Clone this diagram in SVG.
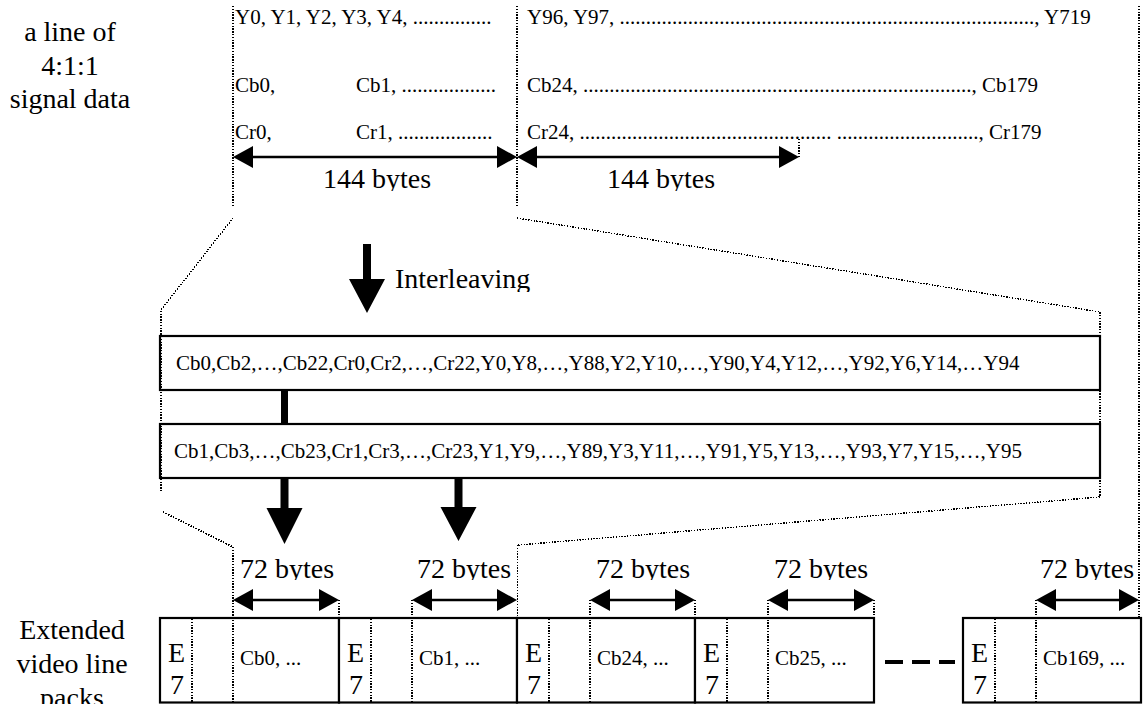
<svg xmlns="http://www.w3.org/2000/svg" width="1143" height="704" viewBox="0 0 1143 704">
  <defs>
    <style>
      .big { font-family: "Liberation Serif", "Times New Roman", serif; font-size: 28px; fill: #000; }
      .sm { font-family: "Liberation Serif", "Times New Roman", serif; font-size: 21px; fill: #000; }
      .dot { stroke: #000; stroke-width: 1.4; stroke-dasharray: 1.4 1.4; fill: none; shape-rendering: crispEdges; }
      .box { fill: #fff; stroke: #000; stroke-width: 2.2; }
      .dim { stroke: #000; stroke-width: 2.5; fill: none; marker-start: url(#ah); marker-end: url(#ah); }
      .solid { fill: #000; stroke: none; }
      .dash { stroke: #000; stroke-width: 4; stroke-dasharray: 18 9; fill: none; }
    </style>
    <!-- filled triangular head used at both ends of the byte-size dimension lines -->
    <marker id="ah" markerUnits="userSpaceOnUse" viewBox="0 0 20 22" markerWidth="20" markerHeight="22" refX="15" refY="11" orient="auto-start-reverse">
      <path d="M0,0 L20,11 L0,22 z" fill="#000"/>
    </marker>
    <!-- label frames crop the descenders of the larger captions -->
    <clipPath id="clip144"><rect x="0" y="0" width="1143" height="191"/></clipPath>
    <clipPath id="clipInter"><rect x="0" y="0" width="1143" height="292"/></clipPath>
    <clipPath id="clip72"><rect x="0" y="0" width="1143" height="580"/></clipPath>
  </defs>

  <rect width="1143" height="704" fill="#fff"/>

  <!-- left-hand captions -->
  <g id="caption-source">
    <text class="big" x="70" y="41" text-anchor="middle">a line of</text>
    <text class="big" x="70" y="75" text-anchor="middle">4:1:1</text>
    <text class="big" x="70" y="108" text-anchor="middle">signal data</text>
  </g>
  <g id="caption-packs">
    <text class="big" x="72" y="639" text-anchor="middle">Extended</text>
    <text class="big" x="72" y="673" text-anchor="middle">video line</text>
    <text class="big" x="72" y="707" text-anchor="middle">packs</text>
  </g>

  <!-- one line of 4:1:1 samples -->
  <g id="signal-line">
    <text class="sm" x="235" y="24">Y0, Y1, Y2, Y3, Y4, ...............</text>
    <text class="sm" x="527" y="24">Y96, Y97, ..............................................................................., Y719</text>
    <text class="sm" x="235" y="92">Cb0,</text>
    <text class="sm" x="356" y="92">Cb1, ..................</text>
    <text class="sm" x="527" y="92">Cb24, .........................................................................., Cb179</text>
    <text class="sm" x="235" y="139">Cr0,</text>
    <text class="sm" x="356" y="139">Cr1, ..................</text>
    <text class="sm" x="527" y="139">Cr24, ................................................ ..........................., Cr179</text>
  </g>

  <g id="label-144-a" clip-path="url(#clip144)">
    <text class="big" x="377" y="188" text-anchor="middle">144 bytes</text>
  </g>
  <g id="label-144-b" clip-path="url(#clip144)">
    <text class="big" x="661" y="188" text-anchor="middle">144 bytes</text>
  </g>
  <g id="label-interleaving" clip-path="url(#clipInter)">
    <text class="big" x="395" y="288">Interleaving</text>
  </g>

  <!-- interleaved halves -->
  <g id="half-even">
    <rect class="box" x="160" y="336" width="940" height="54"/>
    <text class="sm" x="176" y="370">Cb0,Cb2,…,Cb22,Cr0,Cr2,…,Cr22,Y0,Y8,…,Y88,Y2,Y10,…,Y90,Y4,Y12,…,Y92,Y6,Y14,…Y94</text>
  </g>
  <g id="half-odd">
    <rect class="box" x="160" y="424" width="940" height="54"/>
    <text class="sm" x="174" y="458">Cb1,Cb3,…,Cb23,Cr1,Cr3,…,Cr23,Y1,Y9,…,Y89,Y3,Y11,…,Y91,Y5,Y13,…,Y93,Y7,Y15,…,Y95</text>
  </g>

  <!-- extended video line packs -->
  <g id="pack-1">
    <rect class="box" x="160" y="618" width="179" height="84.5"/>
    <line class="dot" x1="192" y1="619" x2="192" y2="702"/>
    <text class="big" x="168" y="662">E</text>
    <text class="big" x="170" y="694">7</text>
    <text class="sm" x="240" y="665">Cb0, ...</text>
  </g>
  <g id="pack-2">
    <rect class="box" x="339" y="618" width="178" height="84.5"/>
    <line class="dot" x1="371" y1="619" x2="371" y2="702"/>
    <line class="dot" x1="412" y1="600" x2="412" y2="702"/>
    <text class="big" x="347" y="662">E</text>
    <text class="big" x="349" y="694">7</text>
    <text class="sm" x="419" y="665">Cb1, ...</text>
  </g>
  <g id="pack-3">
    <rect class="box" x="517" y="618" width="178" height="84.5"/>
    <line class="dot" x1="549" y1="619" x2="549" y2="702"/>
    <line class="dot" x1="590" y1="600" x2="590" y2="702"/>
    <text class="big" x="525" y="662">E</text>
    <text class="big" x="527" y="694">7</text>
    <text class="sm" x="597" y="665">Cb24, ...</text>
  </g>
  <g id="pack-4">
    <rect class="box" x="695" y="618" width="179" height="84.5"/>
    <line class="dot" x1="727" y1="619" x2="727" y2="702"/>
    <line class="dot" x1="768" y1="600" x2="768" y2="702"/>
    <text class="big" x="703" y="662">E</text>
    <text class="big" x="705" y="694">7</text>
    <text class="sm" x="775" y="665">Cb25, ...</text>
  </g>
  <g id="pack-n">
    <rect class="box" x="963" y="618" width="178" height="84.5"/>
    <line class="dot" x1="995" y1="619" x2="995" y2="702"/>
    <line class="dot" x1="1036" y1="600" x2="1036" y2="702"/>
    <text class="big" x="971" y="662">E</text>
    <text class="big" x="973" y="694">7</text>
    <text class="sm" x="1043" y="665">Cb169, ...</text>
  </g>

  <g id="labels-72" clip-path="url(#clip72)">
    <text class="big" x="287" y="578" text-anchor="middle">72 bytes</text>
    <text class="big" x="464" y="578" text-anchor="middle">72 bytes</text>
    <text class="big" x="643" y="578" text-anchor="middle">72 bytes</text>
    <text class="big" x="821" y="578" text-anchor="middle">72 bytes</text>
    <text class="big" x="1087" y="578" text-anchor="middle">72 bytes</text>
  </g>

  <g id="connectors">
    <!-- guide lines of the top line -->
    <line class="dot" x1="233" y1="6" x2="233" y2="208"/>
    <line class="dot" x1="517" y1="6" x2="517" y2="206"/>
    <line class="dot" x1="1139" y1="6" x2="1139" y2="618"/>
    <line class="dot" x1="799" y1="139" x2="799" y2="157"/>

    <!-- zoom guides: line to interleaved halves -->
    <polyline class="dot" points="233,218 161,310 161,493"/>
    <polyline class="dot" points="517,218 1100,312 1100,497 518,545"/>
    <!-- zoom guides: halves to packs -->
    <line class="dot" x1="163" y1="512" x2="233" y2="547"/>
    <line class="dot" x1="233" y1="547" x2="233" y2="702"/>
    <line class="dot" x1="517.5" y1="545" x2="517.5" y2="618"/>
    <line class="dot" x1="339" y1="600" x2="339" y2="618"/>
    <line class="dot" x1="695" y1="600" x2="695" y2="618"/>
    <line class="dot" x1="874" y1="600" x2="874" y2="618"/>

    <!-- byte-size dimensions -->
    <line class="dim" x1="238" y1="157" x2="512" y2="157"/>
    <line class="dim" x1="522" y1="157" x2="794" y2="157"/>
    <line class="dim" x1="238" y1="600" x2="334" y2="600"/>
    <line class="dim" x1="417" y1="600" x2="512" y2="600"/>
    <line class="dim" x1="595" y1="600" x2="690" y2="600"/>
    <line class="dim" x1="773" y1="600" x2="869" y2="600"/>
    <line class="dim" x1="1041" y1="600" x2="1134" y2="600"/>

    <!-- interleaving flow -->
    <path class="solid" d="M363,244 H371 V279 H385 L367,313 L349,279 H363 Z"/>
    <rect class="solid" x="281" y="390" width="7" height="34"/>
    <path class="solid" d="M280.5,478 H288.5 V508 H302.5 L284.5,544 L266.5,508 H280.5 Z"/>
    <path class="solid" d="M454.5,478 H462.5 V507 H476.5 L458.5,541 L440.5,507 H454.5 Z"/>

    <!-- omitted packs -->
    <line class="dash" x1="885" y1="662" x2="955" y2="662"/>
  </g>
</svg>
